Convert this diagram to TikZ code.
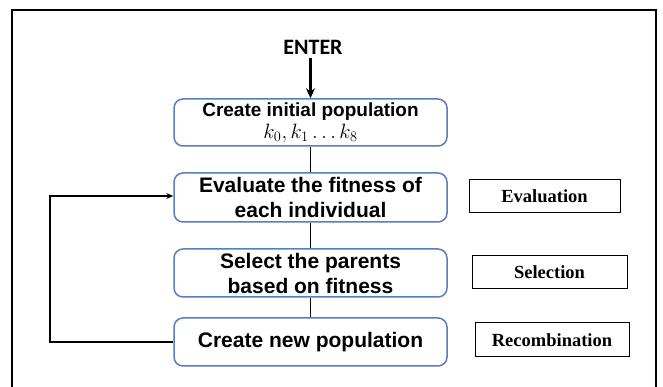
\documentclass[tikz,border=0pt]{standalone}
\usepackage{amsmath}
\usepackage{fontspec}
\setmainfont{Liberation Serif}
\setsansfont{Liberation Sans}
\newfontfamily\enterfont{Carlito}
\usepackage{tikz}
\usetikzlibrary{arrows.meta}
\definecolor{boxblue}{RGB}{90,125,190}
\tikzset{
	stage/.style={draw=boxblue,line width=1.5pt,rounded corners=9pt,minimum width=273pt,minimum height=48pt,align=center,font=\sffamily\bfseries\fontsize{21}{25}\selectfont,inner sep=0pt},
	phase/.style={draw,line width=1pt,minimum height=33pt,font=\rmfamily\bfseries\fontsize{18.5}{22}\selectfont,inner sep=0pt},
	link/.style={line width=1.8pt}
}

\begin{document}
\begin{tikzpicture}[x=1pt,y=1pt]
		\useasboundingbox (0,0) rectangle (663,387);
		\draw [line width=2pt] (12,-5) -- (12,377) -- (656,377) -- (656,-5);
		\node [font=\enterfont\bfseries\fontsize{22}{26}\selectfont] (enter) at (313,340) {ENTER};
		\node [stage,minimum height=47pt,font=\sffamily\bfseries\fontsize{19}{23}\selectfont] (init) at (310.5,264.5) {Create initial population\\[-1pt]\fontsize{21}{23}\selectfont$k_0, k_1 \ldots k_8$};
		\node [stage,minimum height=49pt] (eval) at (310.5,189.5) {Evaluate the fitness of\\each individual};
		\node [stage] (sel) at (310.5,114) {Select the parents\\based on fitness};
		\node [stage] (new) at (310.5,45) {Create new population};
		\node [phase,minimum width=151pt] (evaluation) at (544.5,190.5) {Evaluation};
		\node [phase,minimum width=155pt] (selection) at (549.5,114.5) {Selection};
		\node [phase,minimum width=154pt,minimum height=34pt] (recomb) at (552,47) {Recombination};
		\coordinate (entry) at (310.5,329);
		\draw [link,line width=2.2pt,-{Stealth[length=10pt,width=9pt]}] (entry) -- (init.north);
		\draw [link] (init) -- (eval);
		\draw [link] (eval) -- (sel);
		\draw [link] (sel) -- (new);
		\draw [link,line width=2.2pt,-{Stealth[length=7pt,width=6pt]}] (new.west) -- (50,45) -- (50,191) -- (eval.west |- 0,191);
	\end{tikzpicture}
\end{document}
